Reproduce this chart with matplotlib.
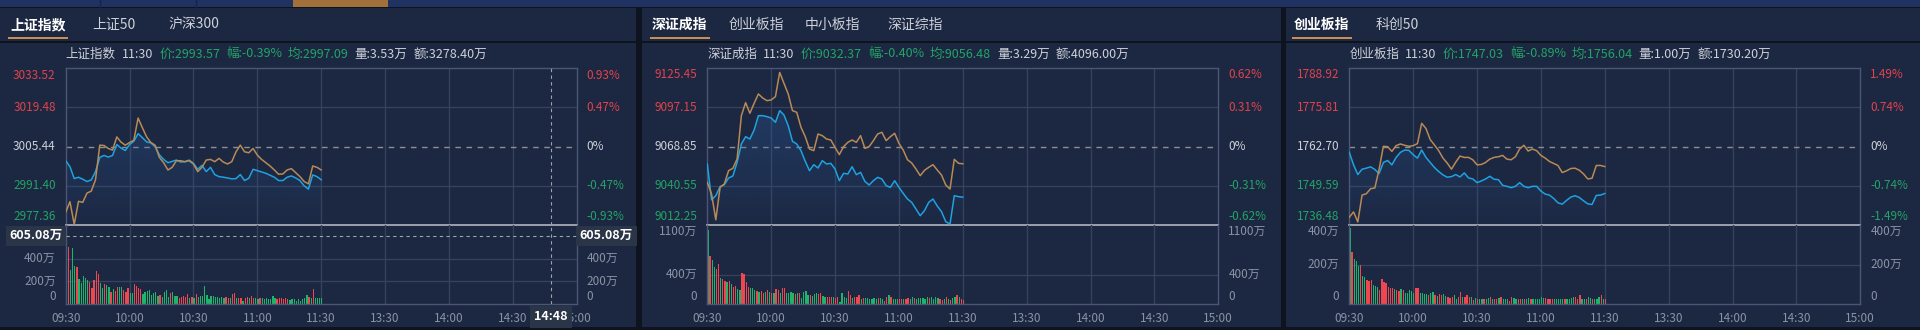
"""
Three intraday index panels (上证 / 深证 / 创业板), morning session only, dark theme.
"""
import numpy as np
import matplotlib; matplotlib.use("Agg")
import matplotlib.pyplot as plt
from matplotlib.patches import Rectangle, Polygon
from matplotlib.colors import to_rgb

plt.rcParams['font.family'] = ['Noto Sans CJK SC', 'DejaVu Sans']

# ── data ──────────────────────────────────────────────────────────────────────
MIN_LINE = np.arange(0, 121, 2)     # minutes after 09:30 (every 2 min)
MIN_BAR  = np.arange(0, 121)        # one volume bar per minute
TIME_TICKS  = [0, 30, 60, 90, 120, 150, 180, 210, 240]
TIME_LABELS = ["09:30", "10:00", "10:30", "11:00", "11:30", "13:30", "14:00", "14:30", "15:00"]

# 上证指数
SH_TABS  = ["上证指数", "上证50", "沪深300"]
SH_INFO  = ["上证指数", "11:30", "价:2993.57", "幅:-0.39%", "均:2997.09", "量:3.53万", "额:3278.40万"]
SH_LEFT  = ["3033.52", "3019.48", "3005.44", "2991.40", "2977.36"]
SH_RIGHT = ["0.93%", "0.47%", "0%", "-0.47%", "-0.93%"]
SH_PRICE = [3000.40, 2998.27, 2994.00, 2994.48, 2993.77, 2992.94, 2993.53, 2996.49, 3001.59, 3002.30,
            3001.70, 3002.30, 3006.20, 3004.90, 3004.07, 3006.20, 3007.39, 3010.11, 3008.69, 3007.15,
            3006.80, 3005.38, 3002.53, 3000.87, 2999.69, 3000.16, 3000.64, 2999.93, 3000.05, 3000.64,
            2999.45, 2997.32, 2998.74, 2996.49, 2998.03, 2995.43, 2994.71, 2994.48, 2994.24, 2993.89,
            2994.00, 2995.43, 2993.30, 2994.12, 2997.32, 2996.85, 2996.37, 2995.90, 2995.19, 2994.48,
            2993.30, 2993.30, 2994.48, 2994.95, 2994.24, 2993.30, 2991.40, 2990.21, 2995.31, 2994.71,
            2993.57]
SH_AVG   = [2981.92, 2985.71, 2977.54, 2985.83, 2985.47, 2988.79, 2989.50, 2993.53, 3005.97, 3005.85,
            3004.79, 3004.20, 3008.93, 3007.04, 3005.97, 3006.92, 3007.75, 3015.68, 3012.25, 3008.93,
            3006.92, 3005.97, 3001.59, 2999.69, 2997.08, 2998.03, 3000.40, 3000.40, 3000.05, 3000.40,
            2999.22, 2996.49, 2998.03, 3000.64, 3000.87, 3000.05, 3001.23, 2999.93, 2999.22, 3000.05,
            3003.60, 3005.97, 3003.60, 3003.24, 3004.79, 3002.42, 3000.87, 2999.69, 2998.50, 2997.08,
            2995.54, 2995.66, 2997.08, 2997.56, 2996.14, 2994.71, 2992.94, 2992.11, 2998.50, 2998.03,
            2997.09]
SH_VOL   = [658, 504, 302, 495, 338, 326, 219, 190, 249, 228,
            210, 192, 140, 210, 296, 270, 190, 140, 180, 170,
            155, 110, 130, 115, 150, 150, 150, 120, 110, 145,
            95, 98, 175, 160, 140, 130, 90, 110, 115, 120,
            80, 100, 110, 70, 80, 60, 110, 125, 60, 95,
            105, 70, 70, 55, 65, 70, 65, 85, 50, 65,
            50, 85, 60, 70, 70, 160, 80, 45, 70, 70,
            60, 60, 55, 60, 50, 65, 50, 55, 90, 100,
            55, 50, 55, 30, 55, 60, 50, 70, 55, 55,
            45, 50, 50, 45, 55, 45, 45, 70, 55, 45,
            50, 55, 45, 50, 45, 35, 40, 40, 30, 40,
            30, 40, 55, 80, 60, 50, 130, 50, 55, 50,
            50]
SH_UPDN  = ("GRGGGRGGGG" "GRRRRRGGRG" "GRGRRGGRRR" "GGRRRRGGGG" "GGGGRGGGGR" "GGGRRRRRGR"
            "GRGGGGGGGG" "GGGGGRRGRR" "GRRGRRGRRG" "GRGGGGGGGR" "RRRRRGGGGG" "GGGGRGRGGG" "G")
SH_VTICKS = [400, 200, 0]
SH_VLABELS = ["400万", "200万", "0"]
SH_VMAX = 702
SH_CROSS_T, SH_CROSS_V = 228, 605.08
SH_CROSS_TIME, SH_CROSS_VOL = "14:48", "605.08万"

# 深证成指
SZ_TABS  = ["深证成指", "创业板指", "中小板指", "深证综指"]
SZ_INFO  = ["深证成指", "11:30", "价:9032.37", "幅:-0.40%", "均:9056.48", "量:3.29万", "额:4096.00万"]
SZ_LEFT  = ["9125.45", "9097.15", "9068.85", "9040.55", "9012.25"]
SZ_RIGHT = ["0.62%", "0.31%", "0%", "-0.31%", "-0.62%"]
SZ_PRICE = [9056.32, 9030.50, 9033.44, 9039.94, 9041.39, 9046.20, 9047.65, 9057.52, 9070.78, 9076.07,
            9074.39, 9080.89, 9091.25, 9091.25, 9090.53, 9089.57, 9086.43, 9094.87, 9091.73, 9084.02,
            9072.70, 9070.78, 9065.96, 9058.25, 9051.50, 9055.84, 9053.43, 9058.73, 9056.32, 9056.80,
            9052.71, 9044.28, 9049.58, 9049.09, 9054.39, 9048.61, 9050.30, 9043.79, 9041.14, 9044.28,
            9046.68, 9045.48, 9040.66, 9039.46, 9044.28, 9039.46, 9035.12, 9031.03, 9028.62, 9023.80,
            9018.98, 9022.60, 9028.62, 9031.03, 9025.97, 9021.87, 9014.65, 9013.00, 9033.44, 9032.71,
            9032.37]
SZ_AVG   = [9043.07, 9034.64, 9016.00, 9039.46, 9041.87, 9051.50, 9053.19, 9059.93, 9091.25, 9100.65,
            9092.94, 9100.16, 9106.91, 9104.02, 9102.09, 9102.57, 9104.98, 9122.50, 9114.62, 9106.91,
            9094.87, 9093.66, 9082.82, 9076.07, 9067.16, 9065.96, 9078.00, 9076.80, 9074.39, 9073.67,
            9068.37, 9063.07, 9068.85, 9071.98, 9073.67, 9071.98, 9076.80, 9067.64, 9068.85, 9073.18,
            9078.00, 9079.21, 9073.18, 9076.07, 9078.48, 9071.26, 9066.44, 9059.45, 9057.04, 9052.71,
            9047.89, 9051.74, 9053.91, 9055.84, 9051.98, 9048.37, 9041.14, 9038.25, 9059.69, 9056.80,
            9056.48]
SZ_VOL   = [1030, 668, 613, 520, 483, 557, 357, 343, 325, 311,
            325, 278, 241, 250, 204, 195, 427, 418, 311, 241,
            223, 218, 195, 186, 172, 186, 158, 172, 195, 172,
            148, 148, 209, 195, 158, 227, 218, 158, 148, 162,
            148, 139, 148, 158, 79, 162, 176, 125, 125, 111,
            139, 148, 139, 158, 111, 93, 93, 102, 93, 93,
            79, 93, 32, 158, 93, 79, 181, 125, 79, 102,
            93, 125, 65, 79, 84, 84, 74, 74, 79, 74,
            84, 79, 65, 46, 93, 121, 102, 74, 65, 65,
            74, 65, 74, 74, 84, 65, 93, 79, 74, 79,
            88, 84, 74, 93, 84, 93, 74, 102, 84, 65,
            56, 74, 93, 74, 60, 84, 93, 121, 100, 65,
            60]
SZ_UPDN  = ("GRGGRRGRRG" "RGRRGGRRRR" "GGGRGRRGRG" "RGRRGRRGGG" "GRGRGGGGRG" "GGRRGGRRRG"
            "RRGGGGRRGR" "RRGRGGGGGG" "RGGRRGRGGG" "RRGRRGGRGG" "GGGGRGGGGR" "RGRGRGGRGR" "R")
SZ_VTICKS = [1100, 400, 0]
SZ_VLABELS = ["1100万", "400万", "0"]
SZ_VMAX = 1100

# 创业板指
CY_TABS  = ["创业板指", "科创50"]
CY_INFO  = ["创业板指", "11:30", "价:1747.03", "幅:-0.89%", "均:1756.04", "量:1.00万", "额:1730.20万"]
CY_LEFT  = ["1788.92", "1775.81", "1762.70", "1749.59", "1736.48"]
CY_RIGHT = ["1.49%", "0.74%", "0%", "-0.74%", "-1.49%"]
CY_PRICE = [1760.78, 1756.62, 1753.36, 1755.16, 1755.50, 1755.95, 1755.05, 1753.70, 1757.41, 1758.08,
            1756.62, 1759.10, 1760.78, 1761.57, 1761.46, 1760.00, 1758.87, 1761.57, 1759.10, 1757.41,
            1755.72, 1754.37, 1753.24, 1752.46, 1752.68, 1753.36, 1752.57, 1753.92, 1752.23, 1751.89,
            1750.66, 1751.22, 1751.89, 1752.79, 1751.78, 1751.67, 1749.76, 1749.42, 1748.97, 1749.42,
            1750.66, 1749.42, 1748.97, 1749.42, 1749.42, 1747.84, 1746.83, 1746.49, 1745.37, 1743.90,
            1743.46, 1744.69, 1745.82, 1746.27, 1745.71, 1744.58, 1743.57, 1743.34, 1746.38, 1746.49,
            1747.03]
CY_AVG   = [1739.07, 1740.87, 1737.50, 1746.49, 1746.94, 1748.63, 1748.86, 1755.16, 1762.81, 1762.70,
            1761.12, 1763.04, 1763.60, 1763.15, 1762.81, 1763.04, 1763.71, 1770.50, 1768.77, 1765.06,
            1763.26, 1761.35, 1758.87, 1757.18, 1755.16, 1757.52, 1759.55, 1759.10, 1759.10, 1758.31,
            1756.62, 1756.73, 1757.41, 1758.53, 1759.10, 1759.32, 1759.77, 1758.53, 1758.31, 1759.32,
            1761.91, 1763.15, 1761.23, 1761.91, 1761.35, 1759.77, 1758.87, 1757.75, 1757.07, 1756.40,
            1754.03, 1754.60, 1755.38, 1755.50, 1754.82, 1753.58, 1751.89, 1752.12, 1756.40, 1756.40,
            1756.04]
CY_VOL   = [383, 265, 226, 219, 192, 197, 142, 138, 122, 118,
            122, 96, 91, 88, 71, 125, 113, 105, 84, 83,
            79, 74, 71, 68, 74, 71, 57, 54, 71, 66,
            54, 81, 79, 57, 54, 51, 51, 46, 57, 62,
            46, 41, 51, 46, 51, 41, 34, 29, 37, 46,
            24, 34, 62, 37, 34, 46, 34, 34, 20, 29,
            24, 27, 24, 27, 24, 30, 34, 24, 24, 24,
            30, 37, 24, 24, 24, 17, 34, 29, 24, 27,
            27, 27, 27, 24, 29, 27, 27, 27, 27, 27,
            34, 30, 30, 27, 24, 24, 27, 27, 24, 27,
            27, 27, 24, 27, 30, 34, 37, 27, 44, 27,
            24, 27, 34, 30, 24, 27, 27, 34, 44, 24,
            27]
CY_UPDN  = ("GRGGGRGGRR" "RGGGRRRRRR" "RGRRGRGGGG" "GRRGGGGRGG" "RGRRGGRRRG" "GRRGRRRGRG"
            "RGGRGGRGRR" "GRGGGRRGGR" "RGRGGRGGGG" "GGRRRRGGGG" "GRGGGGRRRG" "GRGGRGGGRG" "R")
CY_VTICKS = [400, 200, 0]
CY_VLABELS = ["400万", "200万", "0"]
CY_VMAX = 400

# ── style ─────────────────────────────────────────────────────────────────────
W, H = 1920, 330
PT = 72 / 100                      # px -> pt
C_GAP    = "#0d1420"
C_PANEL  = "#1c2741"
C_STRIP  = "#1f3262"
C_GRID   = "#35425e"
C_BORDER = "#4a5675"
C_SEP    = "#a6aab6"
C_TXT    = "#cdd1d9"
C_DIM    = "#8a93a6"
C_RED    = "#e0434d"
C_GRN    = "#22a467"
C_BAR_R  = "#f0464f"
C_BAR_G  = "#1fb36b"
C_BLUE   = "#1ea2e0"
C_ORANGE = "#b88a56"
C_TAB    = "#c98e50"
C_BOX    = "#2b3548"
C_CROSS  = "#9ea3ad"

TOP, MID, BOT = 68.3, 225.0, 304.0
CW = 511.0

fig = plt.figure(figsize=(W / 100, H / 100), dpi=100)
fig.patch.set_facecolor(C_GAP)
bg = fig.add_axes([0, 0, 1, 1])
bg.set_xlim(0, W); bg.set_ylim(H, 0); bg.axis("off")
renderer = fig.canvas.get_renderer()

# top strip
bg.add_patch(Rectangle((0, 0), W, 6.5, color=C_STRIP, lw=0))
for xd in (100, 196):
    bg.plot([xd, xd], [0, 6.5], color="#14234a", lw=1)
bg.add_patch(Rectangle((293, 0), 95, 6.5, color="#a3703c", lw=0))


def px_axes(x0, y0, x1, y1):
    a = fig.add_axes([x0 / W, 1 - y1 / H, (x1 - x0) / W, (y1 - y0) / H])
    a.set_facecolor("none"); a.set_xticks([]); a.set_yticks([])
    return a


def draw_panel(x0, x1, cl, tab_x, tabs, info, left, right, price, avg, vol, updn,
               vticks, vlabels, vmax):
    cr = cl + CW
    bg.add_patch(Rectangle((x0, 7.5), x1 - x0, 319.5, color=C_PANEL, lw=0))
    bg.add_patch(Rectangle((x0, 41), x1 - x0, 2, color=C_GAP, lw=0))

    # tabs
    for i, (tx, name) in enumerate(zip(tab_x, tabs)):
        t = bg.text(tx, 25, name, fontsize=10, va="center", ha="left",
                    color="white" if i == 0 else C_TXT, weight="bold" if i == 0 else "normal")
        if i == 0:
            bb = t.get_window_extent(renderer)
            bg.add_patch(Rectangle((tx - 2, 37), bb.width + 4, 1.8, color=C_TAB, lw=0))

    # info line
    x = cl
    cols = [C_TXT, C_TXT, C_GRN, C_GRN, C_GRN, C_TXT, C_TXT]
    for s, c in zip(info, cols):
        t = bg.text(x, 54, s, fontsize=9, va="center", ha="left", color=c)
        x += t.get_window_extent(renderer).width + 6

    hi, lo = float(left[0]), float(left[-1])
    ax = px_axes(cl, TOP, cr, MID)
    vx = px_axes(cl, MID, cr, BOT)

    # gradient under the price line
    grad = np.zeros((100, 1, 4))
    grad[..., :3] = to_rgb("#2c62a8")
    grad[:, 0, 3] = np.linspace(0.42, 0.03, 100)
    im = ax.imshow(grad, extent=[0, 240, lo, hi], aspect="auto", origin="upper", zorder=1)
    verts = [(MIN_LINE[0], lo)] + list(zip(MIN_LINE, price)) + [(MIN_LINE[-1], lo)]
    im.set_clip_path(Polygon(verts, closed=True, transform=ax.transData))

    for a in (ax, vx):
        a.set_xlim(0, 240)
        for m in TIME_TICKS[1:-1]:
            a.axvline(m, color=C_GRID, lw=1, zorder=0.5)
        for s in a.spines.values():
            s.set_color(C_BORDER); s.set_linewidth(1)
    ax.set_ylim(lo, hi)
    vx.set_ylim(0, vmax)
    ax.spines["bottom"].set_color(C_SEP); ax.spines["bottom"].set_linewidth(1.3)
    vx.spines["top"].set_visible(False)

    ticks = [float(v) for v in left]
    for v in (ticks[1], ticks[3]):
        ax.axhline(v, color=C_GRID, lw=1, zorder=0.5)
    ax.axhline(ticks[2], color="#8c8e94", lw=1, ls=(0, (4, 4)), zorder=0.6)

    ax.plot(MIN_LINE, price, color=C_BLUE, lw=1.1, zorder=3)
    ax.plot(MIN_LINE, avg, color=C_ORANGE, lw=1.1, zorder=3)

    colors = [C_BAR_R if c == "R" else C_BAR_G for c in updn]
    vx.bar(MIN_BAR, vol, width=0.6, color=colors, lw=0, align="edge", zorder=2)
    for v in vticks:
        if 0 < v < vmax:
            vx.axhline(v, color=C_GRID, lw=1, zorder=0.5)

    # price labels
    pcols = [C_RED, C_RED, C_TXT, C_GRN, C_GRN]
    offs = [-6.7, 0, 0, 0, 8.3]
    for v, l, r, c, o in zip(ticks, left, right, pcols, offs):
        ax.annotate(l, xy=(0, v), xycoords=("axes fraction", "data"), xytext=(-10 * PT, o * PT),
                    textcoords="offset points", ha="right", va="center", fontsize=8.5, color=c)
        ax.annotate(r, xy=(1, v), xycoords=("axes fraction", "data"), xytext=(10 * PT, o * PT),
                    textcoords="offset points", ha="left", va="center", fontsize=8.5, color=c)

    # volume labels
    for v, l in zip(vticks, vlabels):
        o = -6.7 if v >= vmax else (7.3 if v == 0 else 0.5)
        for xa, dx, ha in ((0, -10, "right"), (1, 10, "left")):
            vx.annotate(l, xy=(xa, v), xycoords=("axes fraction", "data"), xytext=(dx * PT, o * PT),
                        textcoords="offset points", ha=ha, va="center", fontsize=8.5, color=C_DIM)

    # time labels
    for m, l in zip(TIME_TICKS, TIME_LABELS):
        vx.annotate(l, xy=(m, 0), xycoords=("data", "axes fraction"), xytext=(0, -14 * PT),
                    textcoords="offset points", ha="center", va="center", fontsize=8.5, color=C_DIM)
    return ax, vx


ax1, vx1 = draw_panel(0, 636, 65.7, [10, 92, 168], SH_TABS, SH_INFO, SH_LEFT, SH_RIGHT,
                      SH_PRICE, SH_AVG, SH_VOL, SH_UPDN, SH_VTICKS, SH_VLABELS, SH_VMAX)
draw_panel(642, 1281, 707.3, [652, 729, 805, 887], SZ_TABS, SZ_INFO, SZ_LEFT, SZ_RIGHT,
           SZ_PRICE, SZ_AVG, SZ_VOL, SZ_UPDN, SZ_VTICKS, SZ_VLABELS, SZ_VMAX)
draw_panel(1286, 1920, 1349.3, [1294, 1376], CY_TABS, CY_INFO, CY_LEFT, CY_RIGHT,
           CY_PRICE, CY_AVG, CY_VOL, CY_UPDN, CY_VTICKS, CY_VLABELS, CY_VMAX)

# ── crosshair on the first panel ─────────────────────────────────────────────
for a in (ax1, vx1):
    a.axvline(SH_CROSS_T, color=C_CROSS, lw=0.8, ls=(0, (3, 3)), zorder=4)
vx1.axhline(SH_CROSS_V, color=C_CROSS, lw=0.8, ls=(0, (3, 3)), zorder=4)
box = dict(boxstyle="square,pad=0.3", fc=C_BOX, ec="none")
vx1.annotate(SH_CROSS_VOL, xy=(0, SH_CROSS_V), xycoords=("axes fraction", "data"),
             xytext=(-3 * PT, 0), textcoords="offset points", ha="right", va="center",
             fontsize=9, color="white", weight="bold", bbox=box, zorder=6)
vx1.annotate(SH_CROSS_VOL, xy=(1, SH_CROSS_V), xycoords=("axes fraction", "data"),
             xytext=(3 * PT, 0), textcoords="offset points", ha="left", va="center",
             fontsize=9, color="white", weight="bold", bbox=box, zorder=6)
vx1.annotate(SH_CROSS_TIME, xy=(SH_CROSS_T, 0), xycoords=("data", "axes fraction"),
             xytext=(0, -13 * PT), textcoords="offset points", ha="center", va="center",
             fontsize=9, color="white", weight="bold",
             bbox=dict(boxstyle="square,pad=0.35", fc=C_BOX, ec="none"), zorder=6)

fig.savefig("out.png", dpi=100, facecolor=fig.get_facecolor())
plt.close(fig)
